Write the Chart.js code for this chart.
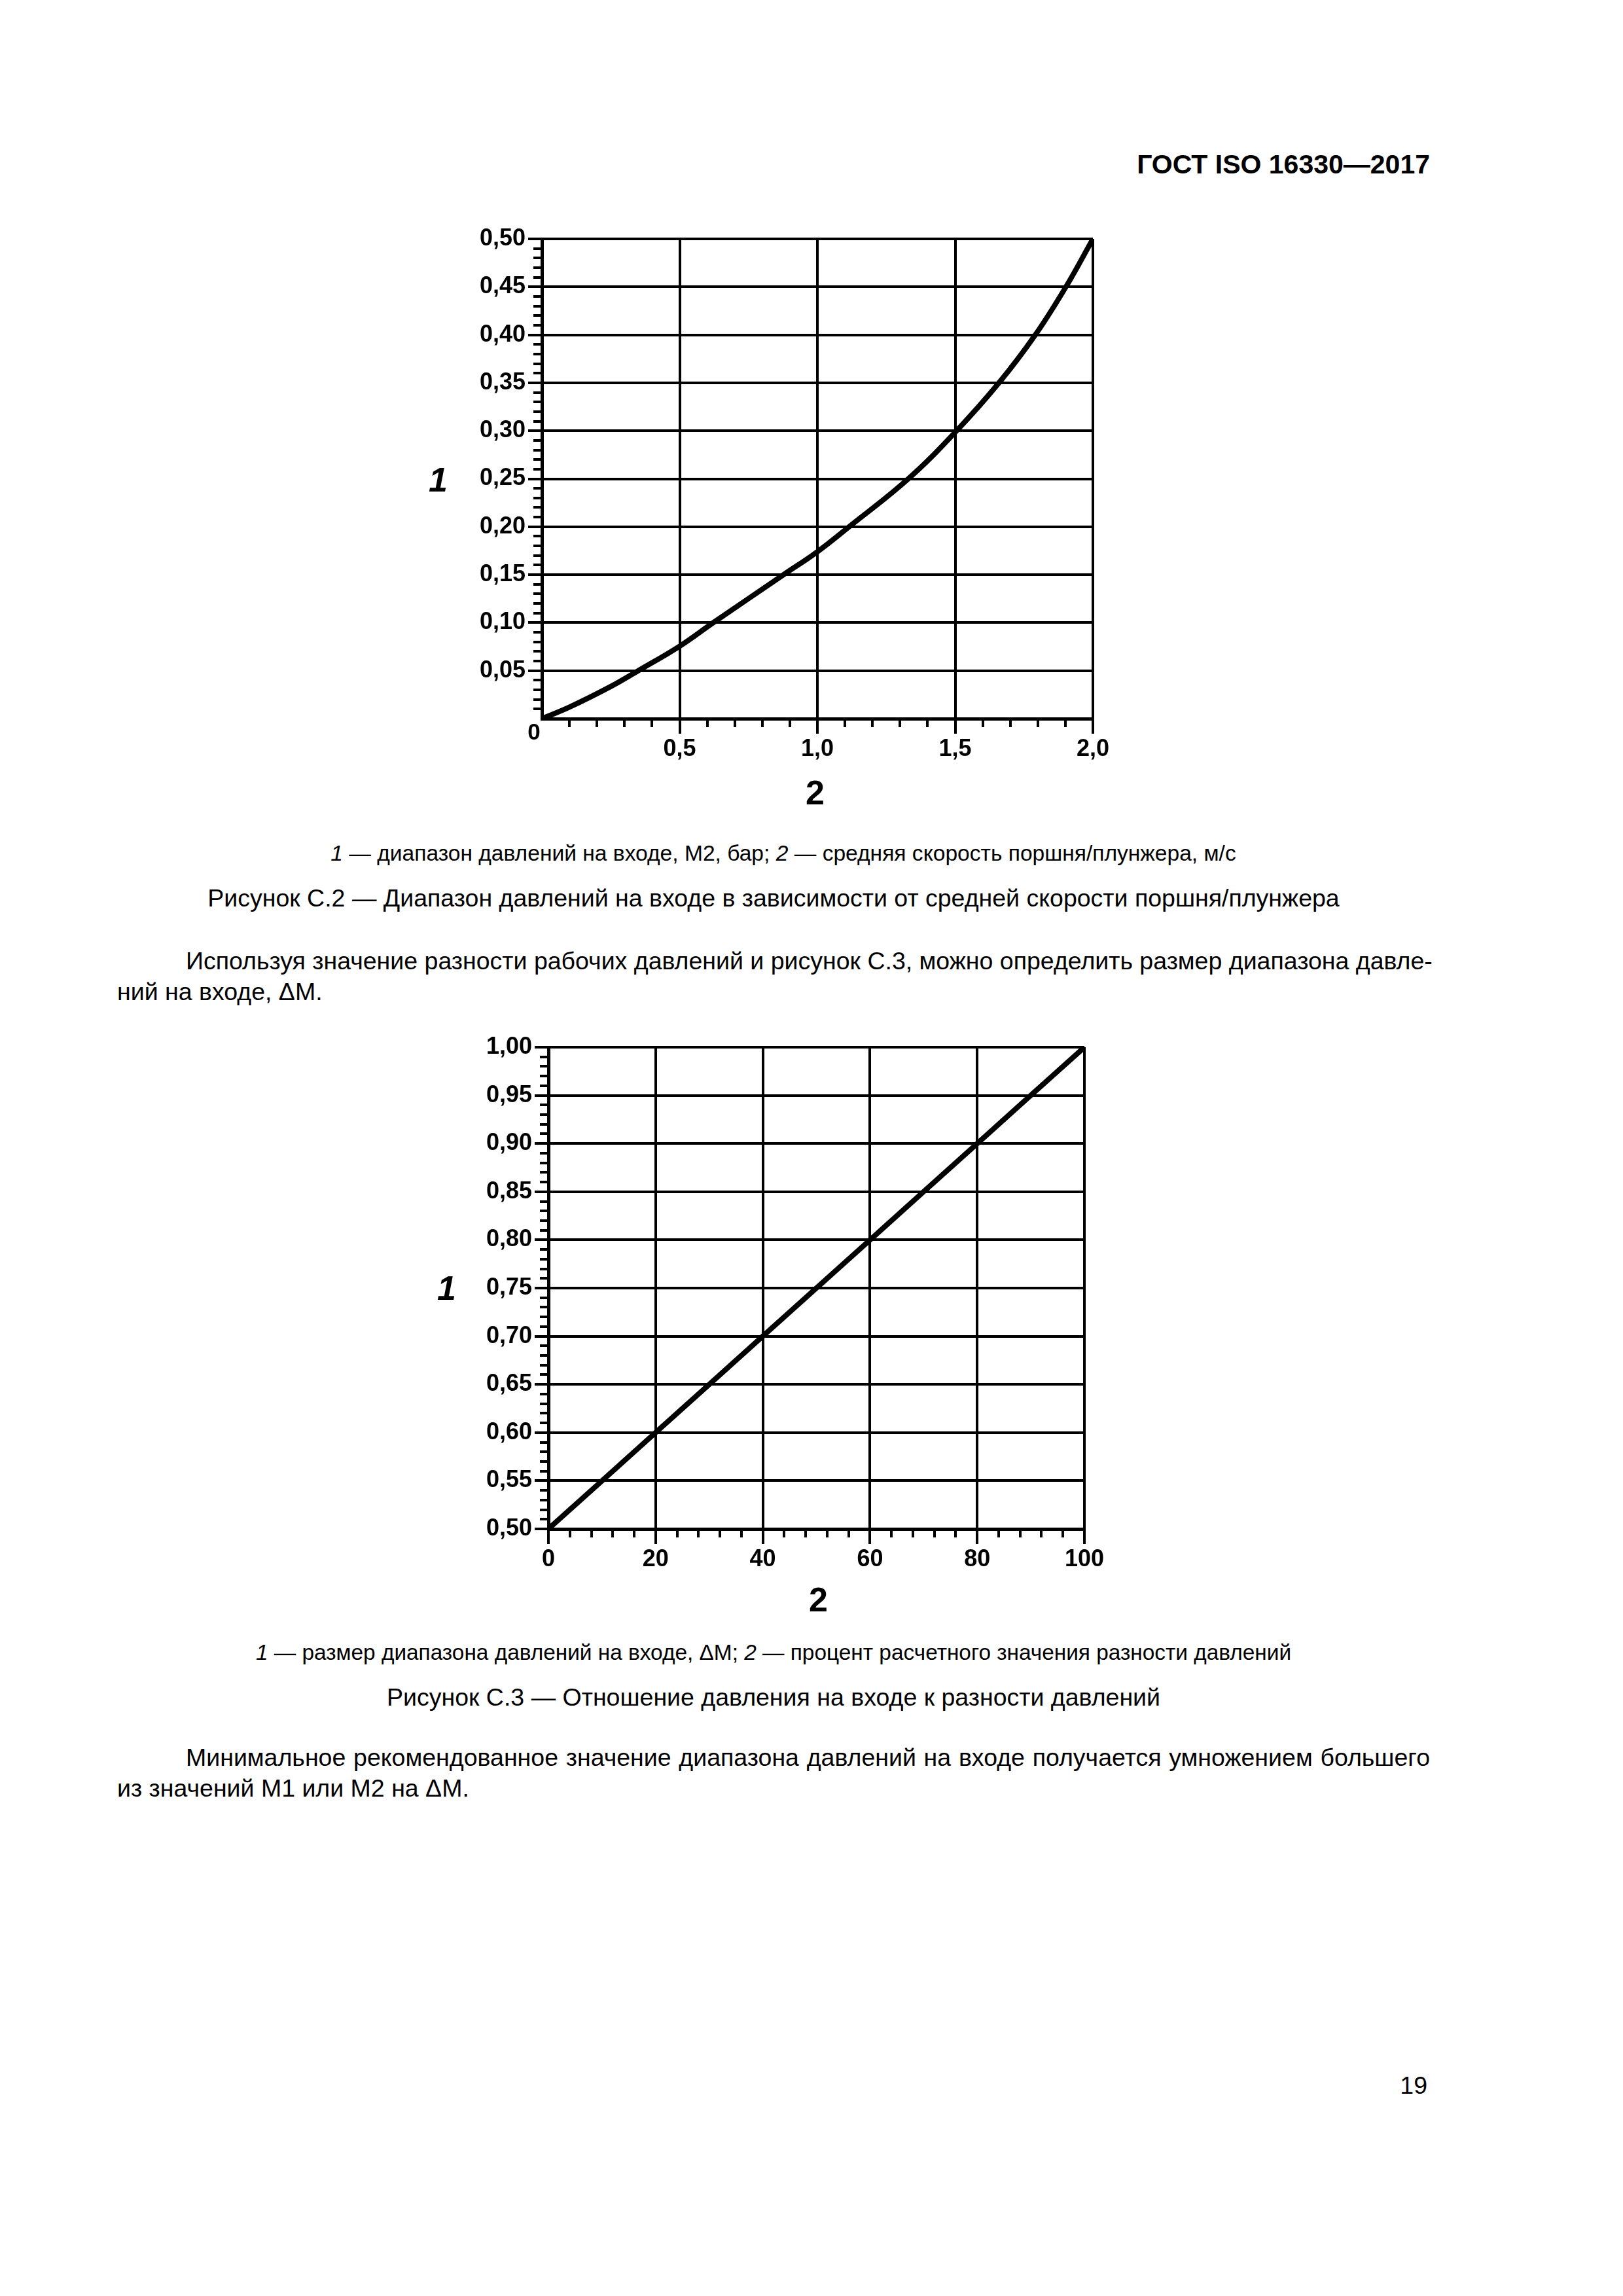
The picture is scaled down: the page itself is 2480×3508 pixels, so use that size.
<!DOCTYPE html>
<html lang="ru">
<head>
<meta charset="utf-8">
<script src="https://cdn.jsdelivr.net/npm/chart.js@4"></script>
<style>
  html, body { margin: 0; padding: 0; background: #fff; }
  body { width: 2480px; height: 3508px; position: relative; overflow: hidden;
         font-family: "Liberation Sans", Arial, sans-serif; color: #000; }
  .t { position: absolute; white-space: nowrap; }
  .blk { position: absolute; left: 179px; width: 2006px; white-space: nowrap; }
  .c { text-align: center; }
  .j { text-align: justify; text-align-last: justify; }
  .cv { position: absolute; }
</style>
</head>
<body>
<script>
// ---------- Figure C.2 data ----------
const speed = [0, 0.10, 0.25, 0.35, 0.50, 0.622, 0.877, 1.00, 1.115, 1.33, 1.505, 1.659, 1.791, 1.902, 2.00];
const pressureRange = [0, 0.012, 0.0335, 0.05, 0.0755, 0.10, 0.15, 0.174, 0.20, 0.25, 0.30, 0.35, 0.40, 0.45, 0.50];
const fig2XTicks = ["0,5", "1,0", "1,5", "2,0"];
const fig2YTicks = ["0,05", "0,10", "0,15", "0,20", "0,25", "0,30", "0,35", "0,40", "0,45", "0,50"];

// ---------- Figure C.3 data ----------
const percent = [0, 20, 40, 60, 80, 100];
const deltaM = [0.50, 0.60, 0.70, 0.80, 0.90, 1.00];
const fig3XTicks = ["0", "20", "40", "60", "80", "100"];
const fig3YTicks = ["0,50", "0,55", "0,60", "0,65", "0,70", "0,75", "0,80", "0,85", "0,90", "0,95", "1,00"];
</script>

<div class="t" style="right:295px; top:231px; font-size:41px; line-height:41px; font-weight:bold;">ГОСТ ISO 16330—2017</div>

<div class="cv" style="left:600px; top:330px;"><canvas id="c1" width="1120" height="900"></canvas></div>
<div class="t" style="left:655px; top:707px; font-size:52px; line-height:52px; font-weight:bold; font-style:italic;">1</div>
<div class="t" style="left:1231px; top:1185px; font-size:52px; line-height:52px; font-weight:bold;">2</div>

<div class="blk c" style="left:194px; top:1287px; font-size:33.6px; line-height:33.6px;"><i>1</i> — диапазон давлений на входе, М2, бар; <i>2</i> — средняя скорость поршня/плунжера, м/с</div>
<div class="blk c" style="top:1354px; font-size:37.5px; line-height:37.5px;">Рисунок С.2 — Диапазон давлений на входе в зависимости от средней скорости поршня/плунжера</div>

<div class="blk j" style="top:1450px; left:284px; width:1901px; font-size:37.5px; line-height:37.5px;">Используя значение разности рабочих давлений и рисунок С.3, можно определить размер диапазона давле-</div>
<div class="blk" style="top:1497px; font-size:37.5px; line-height:37.5px;">ний на входе, ΔМ.</div>

<div class="cv" style="left:600px; top:1560px;"><canvas id="c2" width="1120" height="900"></canvas></div>
<div class="t" style="left:668px; top:1942px; font-size:52px; line-height:52px; font-weight:bold; font-style:italic;">1</div>
<div class="t" style="left:1236px; top:2418px; font-size:52px; line-height:52px; font-weight:bold;">2</div>

<div class="blk c" style="top:2508px; font-size:33.4px; line-height:33.4px;"><i>1</i> — размер диапазона давлений на входе, ΔМ; <i>2</i> — процент расчетного значения разности давлений</div>
<div class="blk c" style="top:2575px; font-size:37.5px; line-height:37.5px;">Рисунок С.3 — Отношение давления на входе к разности давлений</div>

<div class="blk j" style="top:2667px; left:284px; width:1901px; font-size:37.5px; line-height:37.5px;">Минимальное рекомендованное значение диапазона давлений на входе получается умножением большего</div>
<div class="blk" style="top:2714px; font-size:37.5px; line-height:37.5px;">из значений М1 или М2 на ΔМ.</div>

<div class="t" style="right:299px; top:3168px; font-size:37.5px; line-height:37.5px;">19</div>

<script>
const FONT = "'Liberation Sans', Arial, sans-serif";
const near = (a, b) => Math.abs(a - b) < 1e-7;

// minor tick marks drawn through the chart's own scales
const minorTicks = {
  id: 'minorTicks',
  afterDraw(chart, args, o) {
    const { ctx, scales } = chart;
    const xs = scales.x, ys = scales.y;
    ctx.save();
    ctx.strokeStyle = '#000';
    ctx.lineWidth = 4;
    ctx.lineCap = 'butt';
    for (let v = xs.min; v <= xs.max + 1e-9; v += o.xStep) {
      if (o.skip(v, o.xMajor)) continue;
      const px = Math.round(xs.getPixelForValue(v));
      ctx.beginPath(); ctx.moveTo(px, ys.bottom); ctx.lineTo(px, ys.bottom + o.len); ctx.stroke();
    }
    for (let v = ys.min; v <= ys.max + 1e-9; v += o.yStep) {
      if (o.skip(v - ys.min, o.yMajor)) continue;
      const py = Math.round(ys.getPixelForValue(v));
      ctx.beginPath(); ctx.moveTo(xs.left, py); ctx.lineTo(xs.left - o.len, py); ctx.stroke();
    }
    if (o.corner) {
      ctx.fillStyle = '#000';
      ctx.font = 'bold 35px ' + FONT;
      ctx.textAlign = 'center';
      ctx.textBaseline = 'middle';
      ctx.fillText(o.corner, xs.left - 12, ys.bottom + 22);
    }
    ctx.restore();
  }
};
const isMajor = (v, step) => { const r = v / step; return Math.abs(r - Math.round(r)) < 1e-6; };

function makeChart(id, xs, ys, cfg) {
  return new Chart(document.getElementById(id), {
    type: 'line',
    data: { datasets: [{
      data: xs.map((x, i) => ({ x: x, y: ys[i] })),
      borderColor: '#000', borderWidth: 8, pointRadius: 0,
      tension: 0.4, fill: false
    }]},
    options: {
      responsive: false, animation: false, devicePixelRatio: 1,
      layout: { padding: { top: cfg.padTop, right: cfg.padRight, left: 0, bottom: 0 } },
      plugins: {
        legend: { display: false }, tooltip: { enabled: false },
        minorTicks: { xStep: cfg.xMinor, yStep: cfg.yMinor, xMajor: cfg.xStep, yMajor: cfg.yStep,
                      len: 13, skip: isMajor, corner: cfg.corner }
      },
      scales: {
        x: {
          type: 'linear', min: cfg.xMin, max: cfg.xMax,
          afterFit: s => { s.height = cfg.xHeight; },
          afterBuildTicks: s => { s.ticks = cfg.xVals.map(v => ({ value: v })); },
          ticks: { autoSkip: false, maxRotation: 0, padding: 2, color: '#000',
                   font: { family: FONT, size: 36, weight: 'bold' },
                   callback: (v, i) => cfg.xLabels(v) },
          grid: { color: '#000', lineWidth: 4, tickLength: 23, tickWidth: 4,
                  tickColor: c => (c.tick && near(c.tick.value, cfg.xMin) && cfg.corner) ? 'rgba(0,0,0,0)' : '#000' },
          border: { color: '#000', width: 5 }
        },
        y: {
          type: 'linear', min: cfg.yMin, max: cfg.yMax,
          afterFit: s => { s.width = cfg.yWidth; },
          afterBuildTicks: s => { s.ticks = cfg.yVals.map(v => ({ value: v })); },
          ticks: { autoSkip: false, padding: 4, color: '#000',
                   font: { family: FONT, size: 36, weight: 'bold' },
                   callback: (v, i) => cfg.yLabels(v) },
          grid: { color: '#000', lineWidth: 4, tickLength: 21, tickWidth: 4,
                  tickColor: c => (c.tick && near(c.tick.value, cfg.yMin) && cfg.corner) ? 'rgba(0,0,0,0)' : '#000' },
          border: { color: '#000', width: 5 }
        }
      }
    },
    plugins: [minorTicks]
  });
}

// Figure C.2
const f2xVals = [0, 0.5, 1.0, 1.5, 2.0];
const f2yVals = [0, 0.05, 0.10, 0.15, 0.20, 0.25, 0.30, 0.35, 0.40, 0.45, 0.50];
makeChart('c1', speed, pressureRange, {
  xMin: 0, xMax: 2, yMin: 0, yMax: 0.5, xStep: 0.5, yStep: 0.05, xMinor: 0.1, yMinor: 0.01,
  xVals: f2xVals, yVals: f2yVals,
  xLabels: v => { const i = f2xVals.findIndex(t => near(t, v)); return i > 0 ? fig2XTicks[i - 1] : ''; },
  yLabels: v => { const i = f2yVals.findIndex(t => near(t, v)); return i > 0 ? fig2YTicks[i - 1] : ''; },
  corner: '0', padTop: 35, padRight: 50, yWidth: 228, xHeight: 132
});

// Figure C.3
const f3xVals = [0, 20, 40, 60, 80, 100];
const f3yVals = [0.50, 0.55, 0.60, 0.65, 0.70, 0.75, 0.80, 0.85, 0.90, 0.95, 1.00];
makeChart('c2', percent, deltaM, {
  xMin: 0, xMax: 100, yMin: 0.5, yMax: 1.0, xStep: 20, yStep: 0.05, xMinor: 4, yMinor: 0.01,
  xVals: f3xVals, yVals: f3yVals,
  xLabels: v => { const i = f3xVals.findIndex(t => near(t, v)); return i >= 0 ? fig3XTicks[i] : ''; },
  yLabels: v => { const i = f3yVals.findIndex(t => near(t, v)); return i >= 0 ? fig3YTicks[i] : ''; },
  corner: '', padTop: 40, padRight: 63, yWidth: 238, xHeight: 124
});
</script>
</body>
</html>
